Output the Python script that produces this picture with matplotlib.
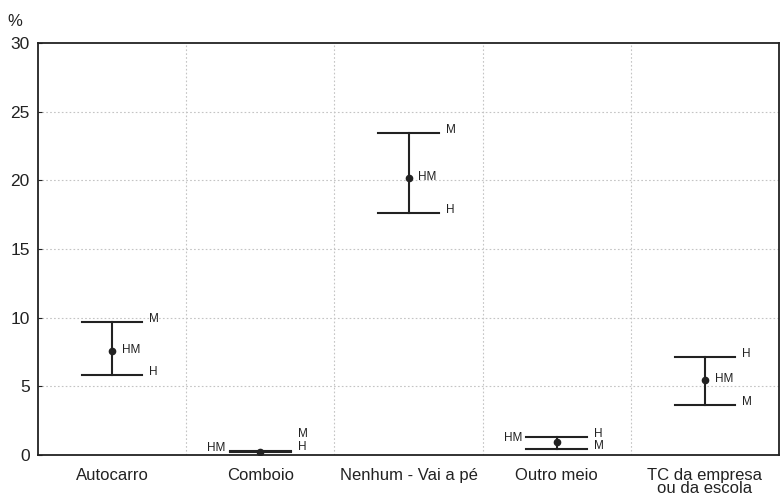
import matplotlib
matplotlib.use("Agg")
import matplotlib.pyplot as plt

plt.rcParams['font.family'] = ['Liberation Sans', 'DejaVu Sans']

categories = ["Autocarro", "Comboio", "Nenhum - Vai a pé", "Outro meio",
              "TC da empresa\nou da escola"]
mean_hm = [7.57, 0.22, 20.17, 0.95, 5.46]
val_h = [5.83, 0.20, 17.63, 1.31, 7.14]
val_m = [9.69, 0.30, 23.45, 0.44, 3.64]
y_ticks = [0, 5, 10, 15, 20, 25, 30]

# side on which the "HM" label of the mean is written
hm_side = ["right", "left", "right", "left", "right"]

fig = plt.figure(figsize=(7.82, 4.98), dpi=100)
ax = fig.add_axes([38 / 782, 1 - 455 / 498, 741 / 782, 412 / 498])

ax.set_xlim(0, 5)
ax.set_ylim(0, 30)

grid_kw = dict(color="#c4c4c4", lw=0.8, ls=(0, (1.5, 2)), zorder=0)
for yv in y_ticks[1:-1]:
    ax.axhline(yv, **grid_kw)
for xv in range(1, 5):
    ax.axvline(xv, **grid_kw)

cap = 0.205
fs_small = 8.5
ink = "#222222"
for i, (mu, h, m) in enumerate(zip(mean_hm, val_h, val_m)):
    x = i + 0.5
    lo, hi = min(h, m), max(h, m)
    ax.plot([x, x], [lo, hi], color=ink, lw=1.5, zorder=3)
    ax.plot([x - cap, x + cap], [h, h], color=ink, lw=1.5, zorder=3)
    ax.plot([x - cap, x + cap], [m, m], color=ink, lw=1.5, zorder=3)
    ax.plot([x], [mu], "o", color=ink, ms=4.5, zorder=4)

    # H / M labels at the right end of the caps
    for val, lab in ((h, "H"), (m, "M")):
        dy = 2
        if abs(h - m) < 0.2:
            dy = 12 if lab == "M" else 4
        ax.annotate(lab, (x + cap, val), xytext=(5, dy), textcoords="offset points",
                    ha="left", va="center", fontsize=fs_small, color=ink)

    if hm_side[i] == "right":
        ax.annotate("HM", (x, mu), xytext=(7, 1), textcoords="offset points",
                    ha="left", va="center", fontsize=fs_small, color=ink)
    else:
        ax.annotate("HM", (x - cap, mu), xytext=(-3, 3), textcoords="offset points",
                    ha="right", va="center", fontsize=fs_small, color=ink)

ax.set_yticks(y_ticks)
ax.set_yticklabels([str(v) for v in y_ticks], fontsize=12.5)
ax.set_xticks([i + 0.5 for i in range(len(categories))])
ax.set_xticklabels(categories, fontsize=12, linespacing=0.9)
ax.tick_params(axis="y", direction="in", length=3, pad=6, colors=ink)
ax.tick_params(axis="x", length=0, pad=9, colors=ink)
for sp in ax.spines.values():
    sp.set_color(ink)
    sp.set_linewidth(1.3)

fig.text(15 / 782, 1 - 22 / 498, "%", fontsize=12, ha="center", va="center",
         color=ink)

fig.savefig("out.png", dpi=100)
